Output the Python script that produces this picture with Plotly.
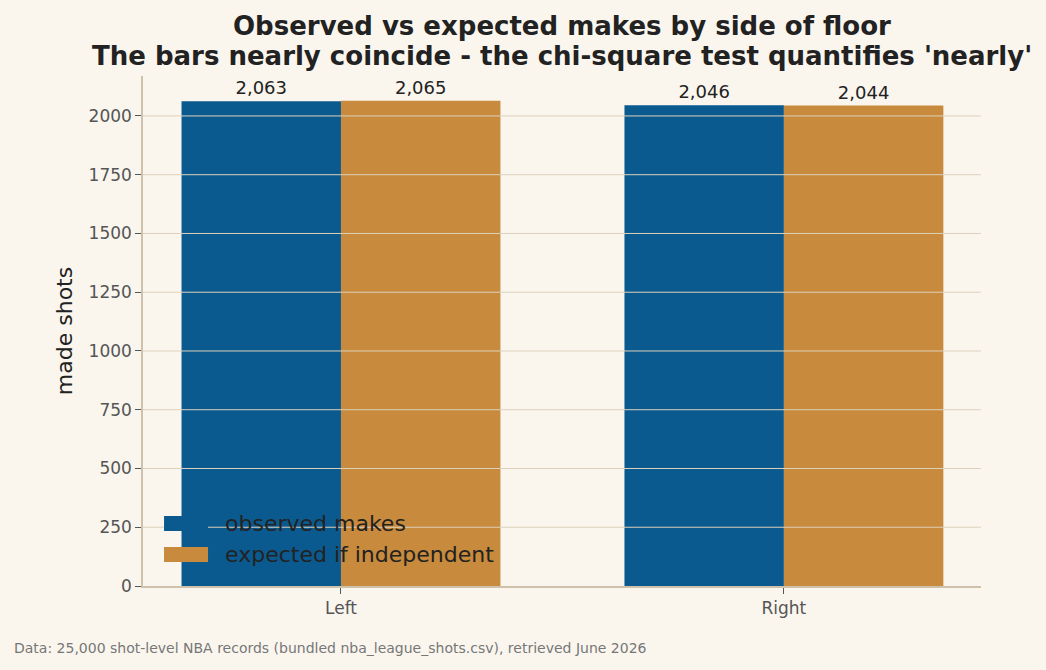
import plotly.graph_objects as go

categories = ["Left", "Right"]
observed = [2063, 2046]
expected = [2065, 2044]
series_names = ["observed makes", "expected if independent"]
y_ticks = [0, 250, 500, 750, 1000, 1250, 1500, 1750, 2000]
title_lines = ["Observed vs expected makes by side of floor",
               "The bars nearly coincide - the chi-square test quantifies 'nearly'"]
footer = "Data: 25,000 shot-level NBA records (bundled nba_league_shots.csv), retrieved June 2026"

BG = "#faf6ee"
BLUE = "#0b5a8f"
ORANGE = "#c88a3c"
GRID = "#ddd1bb"
SPINE = "#cfc2aa"
FONT = "DejaVu Sans"
colors = [BLUE, ORANGE]

fig = go.Figure()
for name, vals, col in zip(series_names, [observed, expected], colors):
    fig.add_trace(go.Bar(
        x=categories, y=vals, name=name, marker=dict(color=col, line=dict(width=0)),
        text=[f"{v:,}" for v in vals], textposition="outside",
        textfont=dict(family=FONT, size=18, color="#222222"), cliponaxis=False,
        showlegend=False,
    ))

# horizontal gridlines drawn above the bars (as in the reference)
for t in y_ticks[1:]:
    fig.add_shape(type="line", xref="paper", x0=0, x1=1, yref="y", y0=t, y1=t,
                  line=dict(color=GRID, width=1), layer="above")

# legend drawn as wide swatches (matplotlib style)
legend_rows = [(0.1373, 0.1078, 0.1216), (0.0765, 0.0471, 0.0608)]
annotations = []
for (ytop, ybot, ymid), name, col in zip(legend_rows, series_names, colors):
    fig.add_shape(type="rect", xref="paper", yref="paper", x0=0.0251, x1=0.0776,
                  y0=ybot, y1=ytop, fillcolor=col, line=dict(width=0), layer="above")
    annotations.append(dict(text=name, xref="paper", yref="paper", x=0.0955, y=ymid,
                            xanchor="left", yanchor="middle", showarrow=False,
                            font=dict(family=FONT, size=22, color="#222222")))

annotations += [
    dict(text=f"<b>{title_lines[0]}</b>", xref="paper", yref="paper", x=0.5, y=1.098,
         xanchor="center", yanchor="middle", showarrow=False,
         font=dict(family=FONT, size=26, color="#222222")),
    dict(text=f"<b>{title_lines[1]}</b>", xref="paper", yref="paper", x=0.5, y=1.039,
         xanchor="center", yanchor="middle", showarrow=False,
         font=dict(family=FONT, size=26, color="#222222")),
    dict(text=footer, xref="paper", yref="paper", x=-131/838, y=-0.122,
         xanchor="left", yanchor="middle", showarrow=False,
         font=dict(family=FONT, size=14, color="#777777")),
]

fig.update_layout(
    width=1046, height=670,
    paper_bgcolor=BG, plot_bgcolor=BG,
    margin=dict(l=143, r=65, t=76, b=84),
    barmode="group", bargap=0.28, bargroupgap=0,
    font=dict(family=FONT, color="#222222"),
    showlegend=False,
    xaxis=dict(
        range=[-0.447, 1.445], showgrid=False, showline=True, linecolor=SPINE, linewidth=1.5,
        ticks="outside", tickcolor="#555555", ticklen=6,
        tickfont=dict(family=FONT, size=17, color="#555555"),
    ),
    yaxis=dict(
        range=[0, 2170], tickvals=y_ticks, showgrid=False, zeroline=False,
        showline=True, linecolor=SPINE, linewidth=1.5,
        ticks="outside", tickcolor="#555555", ticklen=6,
        tickfont=dict(family=FONT, size=17, color="#555555"),
        title=dict(text="made shots", font=dict(family=FONT, size=22, color="#222222"), standoff=10),
    ),
    annotations=annotations,
)

fig.write_html("out.html")
